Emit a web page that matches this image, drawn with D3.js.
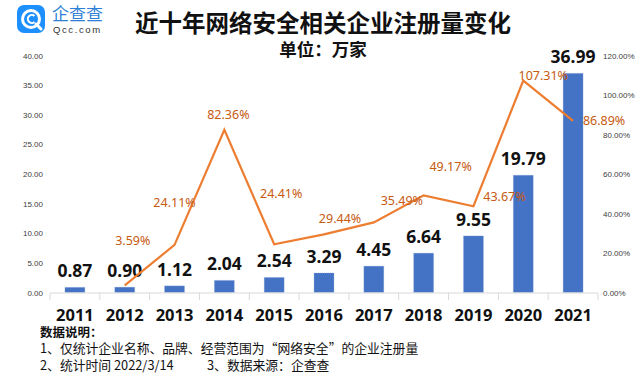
<!DOCTYPE html>
<html><head><meta charset="utf-8">
<script src="https://cdn.jsdelivr.net/npm/d3@7"></script>
<style>html,body{margin:0;padding:0;background:#fff;}svg{display:block;}</style>
</head><body>
<svg id="chart" width="640" height="379"></svg>
<script>
const years = ["2011","2012","2013","2014","2015","2016","2017","2018","2019","2020","2021"];
const counts = [0.87,0.90,1.12,2.04,2.54,3.29,4.45,6.64,9.55,19.79,36.99];
const growth = [null,3.59,24.11,82.36,24.41,29.44,35.49,49.17,43.67,107.31,86.89];
const leftTicks = [0,5,10,15,20,25,30,35,40];
const rightTicks = [0,20,40,60,80,100,120];
// label placement offsets (layout only)
const growthLabelShift = [null,[8,-45],[0,-42],[4,-15],[7,-51],[16,-16],[28,-22],[27,-29],[31,-10],[20,-5],[31,0]];

const svg = d3.select("#chart");
const cjk = "'Noto Sans CJK SC','Noto Sans',sans-serif";
const x = d3.scaleBand().domain(years).range([50, 598]).paddingInner(0.6).paddingOuter(0.3);
const xb = d3.scaleBand().domain(years).range([50, 598]);
const yL = d3.scaleLinear().domain([0,40]).range([292.5,55.5]);
const yR = d3.scaleLinear().domain([0,120]).range([292.5,55.5]);

// logo
const logo = svg.append("g");
logo.append("rect").attr("x",17).attr("y",5).attr("width",28).attr("height",28).attr("rx",7).attr("fill","#1e8fff");
logo.append("circle").attr("cx",31).attr("cy",19).attr("r",8.5).attr("fill","none").attr("stroke","#fff").attr("stroke-width",3);
logo.append("path").attr("d","M36 24 L41 29").attr("stroke","#fff").attr("stroke-width",3).attr("stroke-linecap","round");
logo.append("path").attr("d","M34.5 16 A4 4 0 1 0 34.5 22").attr("fill","none").attr("stroke","#fff").attr("stroke-width",2);
logo.append("text").attr("x",52).attr("y",20).attr("font-family",cjk).attr("font-size",17).attr("fill","#2f7fd6").text("企查查");
logo.append("text").attr("x",53).attr("y",33).attr("font-family","'Liberation Sans',sans-serif").attr("font-size",9.5).attr("letter-spacing",1.6).attr("fill","#333").text("Qcc.com");

// titles
svg.append("text").attr("x",323).attr("y",22).attr("text-anchor","middle").attr("dominant-baseline","central")
  .attr("font-family",cjk).attr("font-weight","bold").attr("font-size",23.5).attr("fill","#111").text("近十年网络安全相关企业注册量变化");
svg.append("text").attr("x",323).attr("y",48).attr("text-anchor","middle").attr("dominant-baseline","central")
  .attr("font-family",cjk).attr("font-weight","bold").attr("font-size",17.5).attr("fill","#111").text("单位：万家");

// left axis
const axL = d3.axisLeft(yL).tickValues(leftTicks).tickSize(0).tickPadding(0).tickFormat(d3.format(".2f"));
const gL = svg.append("g").attr("transform","translate(43,0)").call(axL);
gL.select(".domain").remove();
gL.selectAll("text").attr("font-family","'Liberation Sans',sans-serif").attr("font-size",8).attr("fill","#404040");

// right axis
const axR = d3.axisRight(yR).tickValues(rightTicks).tickSize(0).tickPadding(0).tickFormat(d => d.toFixed(2)+"%");
const gR = svg.append("g").attr("transform","translate(603,0)").call(axR);
gR.select(".domain").remove();
gR.selectAll("text").attr("font-family","'Liberation Sans',sans-serif").attr("font-size",8).attr("fill","#404040");

// bars
svg.append("g").selectAll("rect").data(counts).join("rect")
  .attr("x",(d,i)=>x(years[i])).attr("width",x.bandwidth())
  .attr("y",d=>yL(d)).attr("height",d=>yL(0)-yL(d))
  .attr("fill","#4472c4").attr("stroke","#8fa9dc").attr("stroke-width",0.6).attr("stroke-dasharray","1,1");

// x axis
const axX = d3.axisBottom(xb).tickSize(0).tickPadding(0).tickFormat("");
const gX = svg.append("g").attr("transform","translate(0,293)").call(axX);
gX.select(".domain").attr("stroke","#d9d9d9").attr("d","M50,0H598");
gX.selectAll(".tick").remove();
gX.selectAll("line.sep").data(d3.range(years.length+1)).join("line").attr("class","sep")
  .attr("x1",i=>i<years.length?xb(years[i]):xb(years[years.length-1])+xb.bandwidth())
  .attr("x2",i=>i<years.length?xb(years[i]):xb(years[years.length-1])+xb.bandwidth())
  .attr("y1",0).attr("y2",7).attr("stroke","#d9d9d9");

// year labels
svg.append("g").selectAll("text").data(years).join("text")
  .attr("x",d=>xb(d)+xb.bandwidth()/2).attr("y",314).attr("text-anchor","middle").attr("dominant-baseline","central")
  .attr("font-family","'Noto Sans',sans-serif").attr("font-weight","bold").attr("font-size",16.5).attr("fill","#111").text(d=>d);

// bar value labels
svg.append("g").selectAll("text").data(counts).join("text")
  .attr("x",(d,i)=>xb(years[i])+xb.bandwidth()/2).attr("y",d=>yL(d)-17).attr("text-anchor","middle").attr("dominant-baseline","central")
  .attr("font-family","'Noto Sans',sans-serif").attr("font-weight","bold").attr("font-size",17.5).attr("fill","#111").text(d=>d.toFixed(2));

// growth line
const pts = growth.map((g,i)=>({g,i})).filter(p=>p.g!==null);
const line = d3.line().x(p=>xb(years[p.i])+xb.bandwidth()/2).y(p=>yR(p.g));
svg.append("path").datum(pts).attr("d",line).attr("fill","none").attr("stroke","#ed7d31").attr("stroke-width",2.2).attr("stroke-linejoin","miter");

svg.append("g").selectAll("text").data(pts).join("text")
  .attr("x",p=>xb(years[p.i])+xb.bandwidth()/2+growthLabelShift[p.i][0])
  .attr("y",p=>yR(p.g)+growthLabelShift[p.i][1])
  .attr("text-anchor","middle").attr("dominant-baseline","central")
  .attr("font-family","'Noto Sans',sans-serif").attr("font-size",12.5).attr("fill","#c55a11").text(p=>p.g.toFixed(2)+"%");

// notes
const notes = svg.append("g").attr("font-family",cjk).attr("fill","#111");
notes.append("text").attr("x",40).attr("y",331.5).attr("dominant-baseline","central").attr("font-size",12.5).attr("font-weight","bold").text("数据说明：");
notes.append("text").attr("x",40).attr("y",347.5).attr("dominant-baseline","central").attr("font-size",12.8).text("1、仅统计企业名称、品牌、经营范围为“网络安全”的企业注册量");
notes.append("text").attr("x",40).attr("y",364).attr("dominant-baseline","central").attr("font-size",12.8).text("2、统计时间 2022/3/14");
notes.append("text").attr("x",207).attr("y",364).attr("dominant-baseline","central").attr("font-size",12.8).text("3、数据来源：企查查");
</script>
</body></html>
